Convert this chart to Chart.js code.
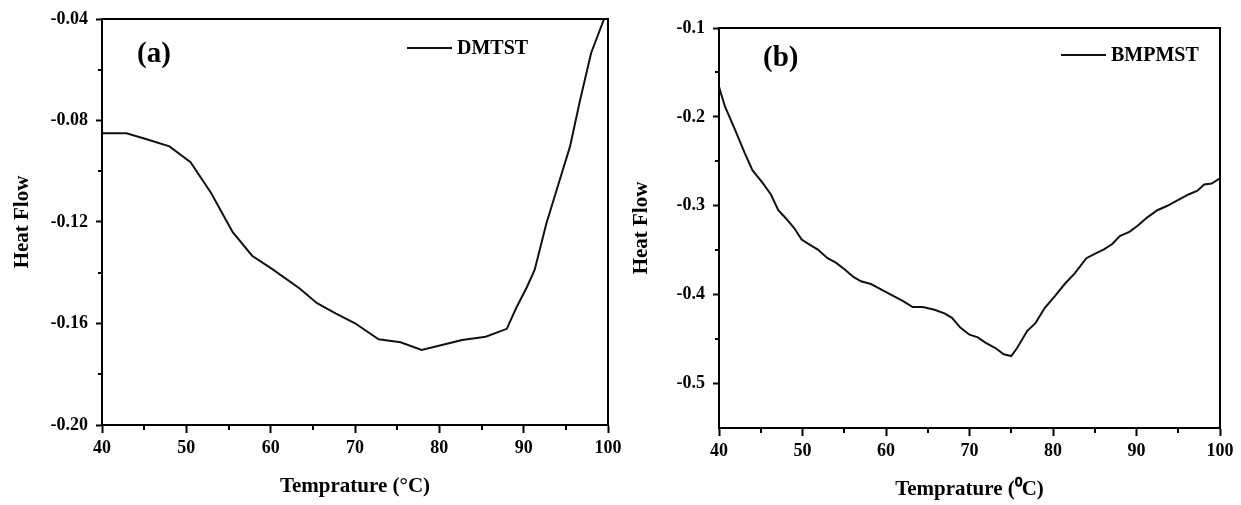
<!DOCTYPE html>
<html>
<head>
<meta charset="utf-8">
<script src="https://cdn.jsdelivr.net/npm/chart.js@4.4.0/dist/chart.umd.min.js"></script>
<style>
    html, body { margin: 0; padding: 0; background: #fff; }
    #wrap { position: relative; width: 1241px; height: 505px; }
    canvas { position: absolute; left: 0; top: 0; }
</style>
</head>
<body>
<div id="wrap">
    <canvas id="chartA" width="1241" height="505"></canvas>
    <canvas id="chartB" width="1241" height="505"></canvas>
</div>
<script>
// panel (a) - DMTST
const tempA = [40, 42.9, 45.2, 48.0, 50.5, 52.9, 55.5, 57.8, 60.2, 63.4, 65.5, 67.7, 70.0, 72.8, 75.4, 77.9,
    80.3, 82.7, 85.5, 88.0, 89.1, 90.4, 91.3, 92.7, 94.1, 95.5, 96.7, 98.0, 99.5];
const heatA = [-0.0850, -0.0850, -0.0873, -0.0902, -0.0964, -0.1084, -0.1240, -0.1333, -0.1386, -0.1461, -0.1520,
    -0.1560, -0.1599, -0.1662, -0.1674, -0.1704, -0.1685, -0.1665, -0.1652, -0.1621, -0.1540, -0.1455, -0.1389,
    -0.1205, -0.1053, -0.0902, -0.0718, -0.0534, -0.0403];

// panel (b) - BMPMST
const tempB = [40, 40.7, 41.9, 43.1, 44.0, 45.2, 46.2, 47.1, 48.0, 49.0, 49.9, 50.9, 51.8, 53.0, 54.0, 55.1,
    56.1, 57.0, 58.2, 59.4, 60.8, 62.0, 63.2, 64.4, 65.8, 67.0, 67.9, 68.9, 70.0, 71.0, 71.9, 73.1, 74.1, 75.0,
    75.7, 76.9, 77.9, 79.0, 80.2, 81.4, 82.6, 84.0, 85.0, 86.1, 87.1, 88.0, 89.2, 90.2, 91.3, 92.5, 93.7, 94.9,
    96.3, 97.3, 98.1, 99.0, 100];
const heatB = [-0.166, -0.188, -0.214, -0.241, -0.260, -0.274, -0.287, -0.305, -0.314, -0.325, -0.338, -0.344,
    -0.349, -0.359, -0.364, -0.372, -0.380, -0.385, -0.388, -0.394, -0.401, -0.407, -0.414, -0.414, -0.417,
    -0.421, -0.426, -0.437, -0.445, -0.448, -0.454, -0.460, -0.467, -0.469, -0.460, -0.441, -0.432, -0.415,
    -0.402, -0.388, -0.376, -0.359, -0.354, -0.349, -0.343, -0.334, -0.329, -0.322, -0.313, -0.305, -0.300,
    -0.294, -0.287, -0.283, -0.276, -0.275, -0.269];

// axis ticks
const xTicks = [40, 50, 60, 70, 80, 90, 100];
const xLabels = ['40', '50', '60', '70', '80', '90', '100'];
const yTicksA = [-0.20, -0.16, -0.12, -0.08, -0.04];
const yLabelsA = ['-0.20', '-0.16', '-0.12', '-0.08', '-0.04'];
const yTicksB = [-0.5, -0.4, -0.3, -0.2, -0.1];
const yLabelsB = ['-0.5', '-0.4', '-0.3', '-0.2', '-0.1'];

const FONT = '"Liberation Serif", "Times New Roman", serif';

function midpoints(arr) {
    const out = [];
    for (let i = 1; i < arr.length; i++) out.push((arr[i - 1] + arr[i]) / 2);
    return out;
}

// box edges, minor ticks, panel letter and legend inside the plot
const framePlugin = {
    id: 'frame',
    afterDraw(chart, args, opts) {
        const { ctx, chartArea: a, scales: { x, y } } = chart;
        ctx.save();
        ctx.strokeStyle = '#000';
        ctx.lineWidth = 2;
        ctx.beginPath();
        ctx.moveTo(a.left, a.top);
        ctx.lineTo(a.right, a.top);
        ctx.lineTo(a.right, a.bottom);
        ctx.stroke();

        ctx.beginPath();
        opts.xMinor.forEach(v => {
            const px = Math.round(x.getPixelForValue(v));
            ctx.moveTo(px, a.bottom);
            ctx.lineTo(px, a.bottom + 5);
        });
        opts.yMinor.forEach(v => {
            const py = Math.round(y.getPixelForValue(v));
            ctx.moveTo(a.left, py);
            ctx.lineTo(a.left - 4, py);
        });
        ctx.stroke();

        ctx.fillStyle = '#000';
        ctx.textBaseline = 'middle';
        ctx.font = 'bold 29px ' + FONT;
        ctx.fillText(opts.letter, a.left + opts.letterX, a.top + opts.letterY);

        const ds = chart.data.datasets[0];
        const lx = a.left + opts.legendX, ly = a.top + opts.legendY;
        ctx.strokeStyle = ds.borderColor;
        ctx.beginPath();
        ctx.moveTo(lx, ly);
        ctx.lineTo(lx + 45, ly);
        ctx.stroke();
        ctx.font = 'bold 20px ' + FONT;
        ctx.fillText(ds.label, lx + 50, ly + 1);
        ctx.restore();
    }
};

function makeChart(id, cfg) {
    const ctx = document.getElementById(id).getContext('2d');
    return new Chart(ctx, {
        type: 'line',
        data: {
            datasets: [{
                label: cfg.label,
                data: cfg.xs.map((t, i) => ({ x: t, y: cfg.ys[i] })),
                borderColor: '#111',
                borderWidth: 2,
                pointRadius: 0,
                tension: 0,
                fill: false
            }]
        },
        options: {
            responsive: false,
            animation: false,
            events: [],
            layout: { padding: cfg.padding },
            plugins: {
                legend: { display: false },
                tooltip: { enabled: false },
                frame: cfg.frame
            },
            scales: {
                x: {
                    type: 'linear',
                    min: 40,
                    max: 100,
                    afterBuildTicks: s => { s.ticks = xTicks.map(v => ({ value: v })); },
                    afterFit: s => { s.height = cfg.xHeight; },
                    grid: { drawOnChartArea: false, drawTicks: true, tickLength: 8, tickColor: '#000', tickWidth: 2 },
                    border: { display: true, color: '#000', width: 2 },
                    ticks: {
                        autoSkip: false,
                        maxRotation: 0,
                        padding: 5,
                        color: '#000',
                        font: { family: FONT, size: 18, weight: 'bold' },
                        callback: (v, i) => xLabels[i]
                    },
                    title: {
                        display: true,
                        text: cfg.xTitle,
                        color: '#000',
                        padding: { top: 0, bottom: cfg.xTitlePad },
                        font: { family: FONT, size: 21, weight: 'bold' }
                    }
                },
                y: {
                    min: cfg.yMin,
                    max: cfg.yMax,
                    afterBuildTicks: s => { s.ticks = cfg.yTicks.map(v => ({ value: v })); },
                    afterFit: s => { s.width = cfg.yWidth; },
                    grid: { drawOnChartArea: false, drawTicks: true, tickLength: 6, tickColor: '#000', tickWidth: 2 },
                    border: { display: true, color: '#000', width: 2 },
                    ticks: {
                        padding: 8,
                        color: '#000',
                        font: { family: FONT, size: 18, weight: 'bold' },
                        callback: (v, i) => cfg.yLabels[i]
                    },
                    title: {
                        display: true,
                        text: 'Heat Flow',
                        color: '#000',
                        padding: { top: 10, bottom: 0 },
                        font: { family: FONT, size: 21, weight: 'bold' }
                    }
                }
            }
        },
        plugins: [framePlugin]
    });
}

makeChart('chartA', {
    label: 'DMTST',
    xs: tempA,
    ys: heatA,
    yMin: -0.20,
    yMax: -0.04,
    yTicks: yTicksA,
    yLabels: yLabelsA,
    xTitle: 'Temprature (\u00B0C)',
    xTitlePad: 6,
    padding: { left: 0, right: 633, top: 19, bottom: 0 },
    yWidth: 102,
    xHeight: 80,
    frame: { xMinor: midpoints(xTicks), yMinor: midpoints(yTicksA), letter: '(a)', letterX: 35, letterY: 36, legendX: 305, legendY: 29 }
});

makeChart('chartB', {
    label: 'BMPMST',
    xs: tempB,
    ys: heatB,
    yMin: -0.55,
    yMax: -0.1,
    yTicks: yTicksB,
    yLabels: yLabelsB,
    xTitle: 'Temprature (\u2070C)',
    xTitlePad: 3,
    padding: { left: 619, right: 21, top: 28, bottom: 0 },
    yWidth: 100,
    xHeight: 77,
    frame: { xMinor: midpoints(xTicks), yMinor: midpoints(yTicksB), letter: '(b)', letterX: 44, letterY: 31, legendX: 342, legendY: 27 }
});
</script>
</body>
</html>
